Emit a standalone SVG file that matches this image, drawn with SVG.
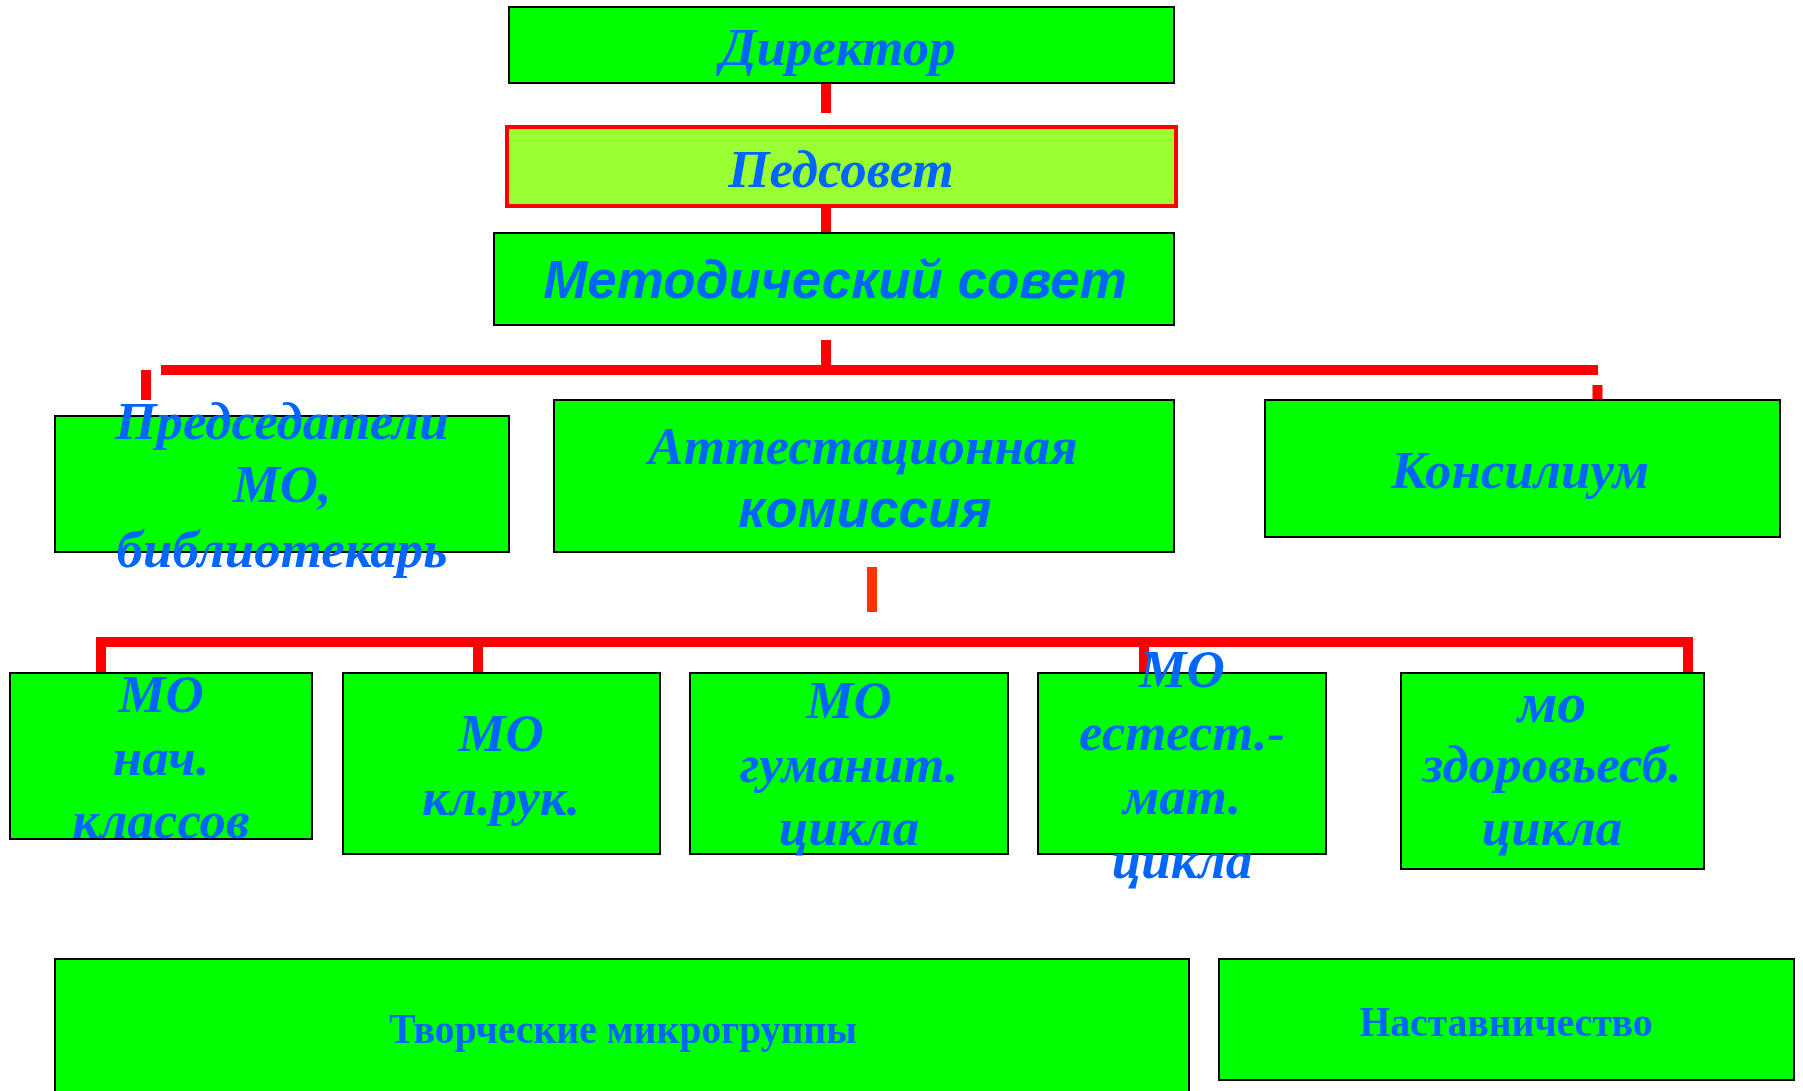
<svg xmlns="http://www.w3.org/2000/svg" width="1803" height="1091" viewBox="0 0 1803 1091">
<style>
.box{fill:#00FF00;stroke:#000;stroke-width:2}
.ped{fill:#99FF33;stroke:#FF0000;stroke-width:4}
.t{font-family:"Liberation Serif","Times New Roman",serif;font-weight:bold;font-style:italic;font-size:53px;fill:#0066FF;text-anchor:middle}
.s{font-family:"Liberation Sans",Arial,sans-serif;font-weight:bold;font-style:italic;font-size:53px;fill:#0066FF;text-anchor:middle}
.b{font-family:"Liberation Serif","Times New Roman",serif;font-weight:bold;font-size:43px;fill:#0066FF;text-anchor:middle}
.c{stroke:#FF0000;stroke-width:10;fill:none;stroke-linejoin:miter}
</style>
<rect width="1803" height="1091" fill="#fff"/>
<g id="connectors">
<line class="c" x1="826" y1="83" x2="826" y2="113"/>
<line class="c" x1="826" y1="206" x2="826" y2="233"/>
<line class="c" x1="826" y1="340" x2="826" y2="370"/>
<line class="c" x1="161" y1="370" x2="1598" y2="370"/>
<line class="c" x1="146" y1="370" x2="146" y2="400"/>
<line class="c" x1="1597.5" y1="385" x2="1597.5" y2="400"/>
<line class="c" x1="872" y1="567" x2="872" y2="612" style="stroke:#FF3300"/>
<path class="c" d="M101 673 V642 H1688 V673"/>
<line class="c" x1="478" y1="647" x2="478" y2="673"/>
<line class="c" x1="1144" y1="647" x2="1144" y2="673"/>
</g>
<g id="director">
<rect class="box" x="509" y="7" width="665" height="76"/>
<text class="t" x="838" y="65">Директор</text>
</g>
<g id="pedsovet">
<rect class="ped" x="507" y="127" width="669" height="79"/>
<text class="t" x="841" y="187">Педсовет</text>
</g>
<g id="metsovet">
<rect class="box" x="494" y="233" width="680" height="92"/>
<text class="s" x="835" y="298">Методический совет</text>
</g>
<g id="predsedateli">
<rect class="box" x="55" y="416" width="454" height="136"/>
<text class="t" x="282" y="439">Председатели</text>
<text class="t" x="282" y="502">МО,</text>
<text class="t" x="282" y="567">библиотекарь</text>
</g>
<g id="attestation">
<rect class="box" x="554" y="400" width="620" height="152"/>
<text class="t" x="863" y="464">Аттестационная</text>
<text class="s" x="865" y="527">комиссия</text>
</g>
<g id="konsilium">
<rect class="box" x="1265" y="400" width="515" height="137"/>
<text class="t" x="1520" y="488">Консилиум</text>
</g>
<g id="mo-nach">
<rect class="box" x="10" y="673" width="302" height="166"/>
<text class="t" x="161" y="712">МО</text>
<text class="t" x="161" y="775">нач.</text>
<text class="t" x="161" y="838">классов</text>
</g>
<g id="mo-klruk">
<rect class="box" x="343" y="673" width="317" height="181"/>
<text class="t" x="501" y="751">МО</text>
<text class="t" x="501" y="815">кл.рук.</text>
</g>
<g id="mo-gum">
<rect class="box" x="690" y="673" width="318" height="181"/>
<text class="t" x="849" y="718">МО</text>
<text class="t" x="849" y="782">гуманит.</text>
<text class="t" x="849" y="845">цикла</text>
</g>
<g id="mo-est">
<rect class="box" x="1038" y="673" width="288" height="181"/>
<text class="t" x="1182" y="687">МО</text>
<text class="t" x="1182" y="750">естест.-</text>
<text class="t" x="1182" y="814">мат.</text>
<text class="t" x="1182" y="878">цикла</text>
</g>
<g id="mo-zdor">
<rect class="box" x="1401" y="673" width="303" height="196"/>
<text class="t" x="1552" y="722" style="font-size:58px">мо</text>
<text class="t" x="1552" y="782">здоровьесб.</text>
<text class="t" x="1552" y="845">цикла</text>
</g>
<g id="tvorch">
<rect class="box" x="55" y="959" width="1134" height="140"/>
<text class="b" x="623" y="1043" textLength="468" lengthAdjust="spacingAndGlyphs">Творческие микрогруппы</text>
</g>
<g id="nastav">
<rect class="box" x="1219" y="959" width="575" height="121"/>
<text class="b" x="1506" y="1036" textLength="293" lengthAdjust="spacingAndGlyphs">Наставничество</text>
</g>
</svg>
